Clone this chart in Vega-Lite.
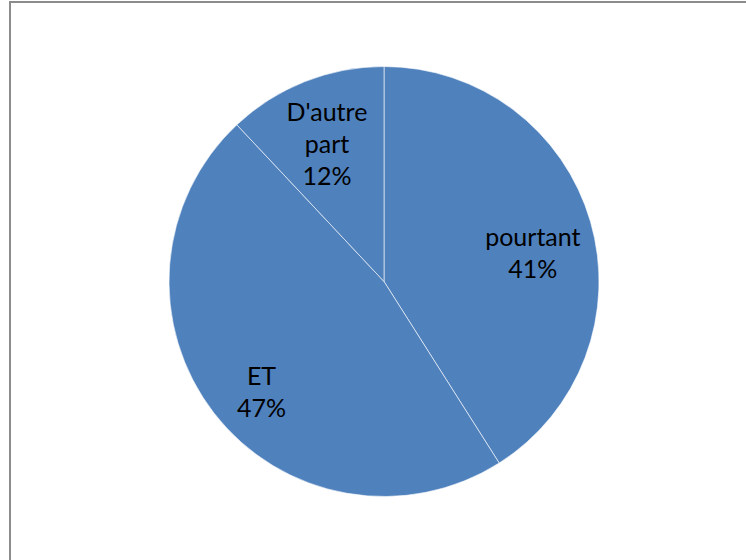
{
  "$schema": "https://vega.github.io/schema/vega-lite/v6.json",
  "width": 746,
  "height": 560,
  "autosize": {"type": "fit", "contains": "padding"},
  "padding": {"left": 10, "top": 2, "right": -3, "bottom": -1},
  "background": "white",
  "view": {"stroke": "#8c8c8c", "strokeWidth": 2, "fill": "white"},
  "data": {
    "values": [
      {"category": "pourtant", "value": 41, "order": 1},
      {"category": "ET", "value": 47, "order": 2},
      {"category": "D'autre part", "value": 12, "order": 3}
    ]
  },
  "transform": [
    {"stack": "value", "groupby": [], "sort": [{"field": "order", "order": "ascending"}], "as": ["v0", "v1"]},
    {"calculate": "(datum.v0 + datum.v1) / 2", "as": "vmid"},
    {"calculate": "datum.category + ' ' + datum.value + '%'", "as": "label"},
    {"calculate": "length(split(datum.label, ' '))", "as": "nlines"}
  ],
  "layer": [
    {
      "mark": {"type": "arc", "outerRadius": 215, "fill": "#4F81BD", "stroke": "white", "strokeWidth": 0.6, "xOffset": 4.5},
      "encoding": {
        "theta": {"field": "v0", "type": "quantitative", "scale": {"domain": [0, 100]}},
        "theta2": {"field": "v1"}
      }
    },
    {
      "mark": {"type": "text", "radius": 155, "font": "Lato", "fontSize": 25, "lineBreak": " ", "lineHeight": 32, "xOffset": 4.5, "fill": "black", "baseline": "middle", "align": "center"},
      "encoding": {
        "theta": {"field": "vmid", "type": "quantitative", "scale": {"domain": [0, 100]}},
        "text": {"field": "label", "type": "nominal"},
        "yOffset": {"field": "nlines", "type": "quantitative", "scale": {"domain": [2, 3], "range": [0, -24]}}
      }
    }
  ]
}
